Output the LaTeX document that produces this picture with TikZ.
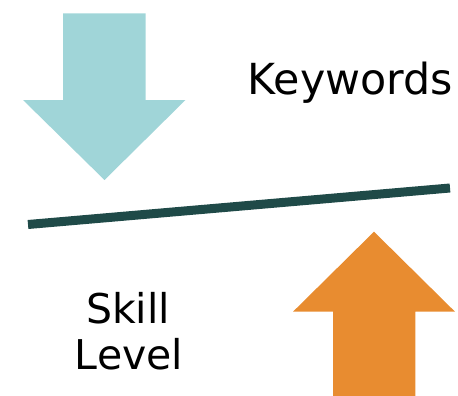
\documentclass[tikz,border=0pt]{standalone}
\usepackage{fontspec}
\setmainfont{DejaVu Sans}
\definecolor{arrowblue}{RGB}{160,213,216}
\definecolor{arroworange}{RGB}{232,140,48}
\definecolor{bardark}{RGB}{31,74,72}
\tikzset{
  bigtext/.style={font=\fontsize{41}{46}\selectfont, text=black, inner sep=0pt, anchor=base},
  barline/.style={draw=bardark, line width=9pt, line cap=butt}
}
\begin{document}
\begin{tikzpicture}[x=1pt,y=-1pt]
\useasboundingbox (0,0) rectangle (458,396);
% blue down arrow
\fill[arrowblue] (63,13.5) -- (145.5,13.5) -- (145.5,100) -- (185.5,100) -- (104.5,180) -- (23,100) -- (63,100) -- cycle;
% orange up arrow
\fill[arroworange] (333,396) -- (333,311.7) -- (293,311.7) -- (374,231.7) -- (455,311.7) -- (415.3,311.7) -- (415.3,396) -- cycle;
% bar
\coordinate (barL) at (28,224.5);
\coordinate (barR) at (450,188);
\draw[barline] (barL) -- (barR);
% texts
\node[bigtext, font=\fontsize{42.8}{48}\selectfont] (kw) at (350.5,94.3) {Keywords};
\node[bigtext] (skill) at (128,323.3) {Skill};
\node[bigtext] (level) at (129,369.3) {Level};
\end{tikzpicture}
\end{document}
